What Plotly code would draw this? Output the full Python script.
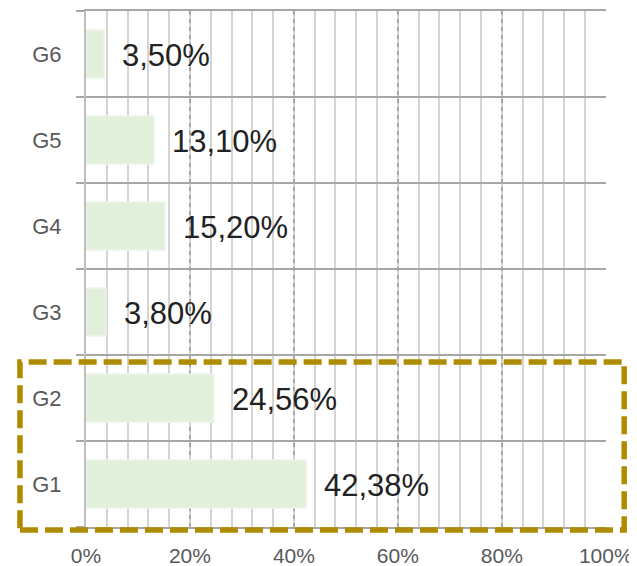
import plotly.graph_objects as go

# 데이터
groups = ['G1', 'G2', 'G3', 'G4', 'G5', 'G6']
shares = [42.38, 24.56, 3.80, 15.20, 13.10, 3.50]
share_labels = ['42,38%', '24,56%', '3,80%', '15,20%', '13,10%', '3,50%']
x_ticks = [0, 20, 40, 60, 80, 100]
x_tick_labels = ['0%', '20%', '40%', '60%', '80%', '100%']

FONT = "Arial, Liberation Sans, sans-serif"

fig = go.Figure(
    go.Bar(
        x=shares, y=groups, orientation='h',
        width=0.56,
        marker=dict(color='#E2EFDA', line=dict(color='#EDF5E8', width=1.5)),
        hoverinfo='skip',
    )
)

# 막대 끝 값 라벨
for g, v, t in zip(groups, shares, share_labels):
    fig.add_annotation(
        x=v, y=g, text=t, showarrow=False,
        xanchor='left', xshift=16, yshift=-1,
        font=dict(family=FONT, size=31, color='#222222'),
    )

fig.update_xaxes(
    range=[0, 100.05],
    tickvals=x_ticks, ticktext=x_tick_labels,
    showgrid=True, gridcolor='#A6A6A6', gridwidth=1.5, griddash='4px,4px',
    minor=dict(dtick=4, tick0=0, showgrid=True, gridcolor='#D4D4D4',
               gridwidth=2, griddash='solid'),
    zeroline=False, showline=True, mirror=True, linecolor='#A6A6A6', linewidth=2,
    ticks='', automargin=False,
    ticklabelstandoff=9,
    tickfont=dict(family=FONT, size=21, color='#595959'),
)

fig.update_yaxes(
    type='category', categoryorder='array', categoryarray=groups,
    tickson='boundaries', ticks='outside', ticklen=8, tickcolor='#A6A6A6', tickwidth=2,
    showgrid=True, gridcolor='#A6A6A6', gridwidth=2,
    showline=True, linecolor='#BFBFBF', linewidth=2,
    automargin=False,
    ticklabelstandoff=18,
    tickfont=dict(family=FONT, size=22, color='#595959'),
)

# G1, G2 강조 점선 박스
fig.add_shape(
    type='rect', xref='paper', yref='paper',
    x0=-0.127, x1=1.035, y0=-0.006, y1=0.32,
    line=dict(color='#AF8B00', width=5.5, dash='18px,7px'),
    fillcolor='rgba(0,0,0,0)', layer='above',
)

# 페이지 기본 여백(8px)을 감안한 크기
fig.update_layout(
    width=629, height=558,
    margin=dict(l=78, r=31, t=3, b=39),
    plot_bgcolor='#fff', paper_bgcolor='#fff',
    showlegend=False,
)

fig.write_html("out.html")
